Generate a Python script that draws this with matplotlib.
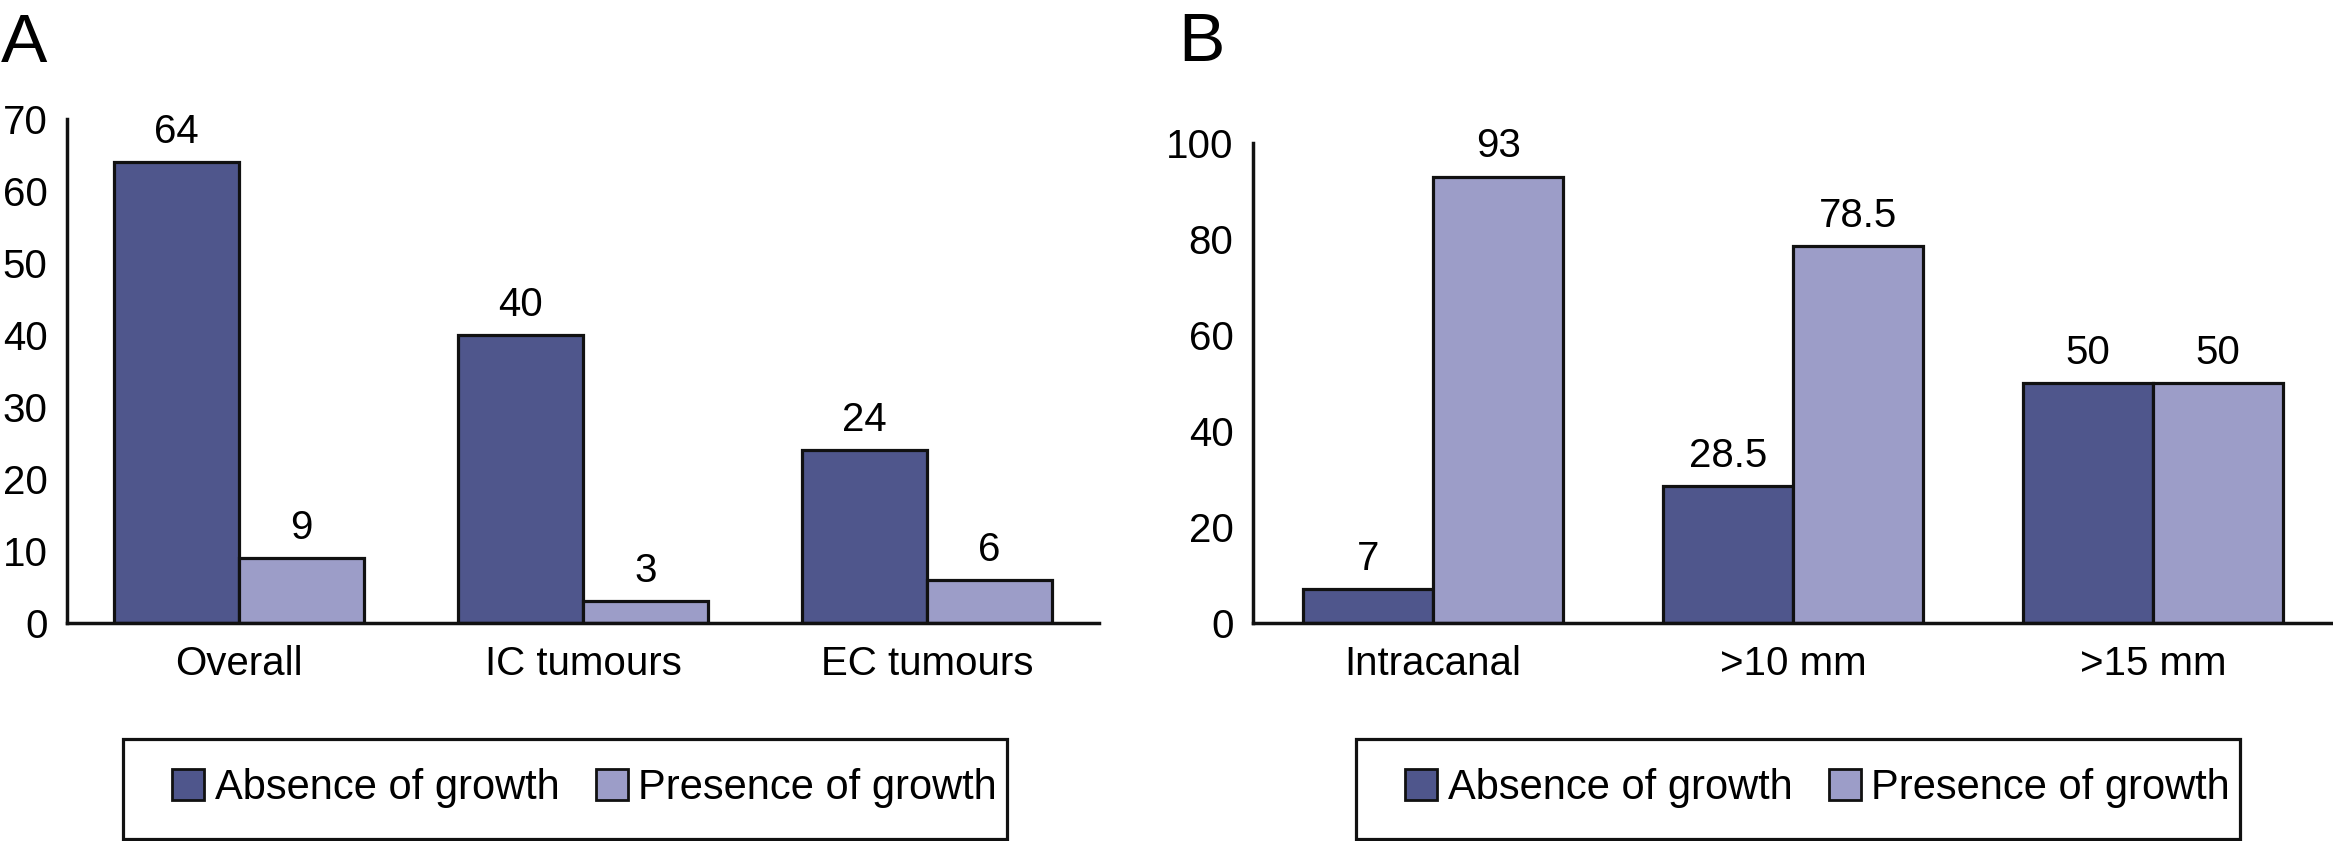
import numpy as np
import matplotlib
matplotlib.use("Agg")
import matplotlib.pyplot as plt
from matplotlib.patches import Patch, Rectangle

plt.rcParams['font.family'] = ['Liberation Sans', 'DejaVu Sans']

# data
cats_a = ["Overall", "IC tumours", "EC tumours"]
absence_a = [64, 40, 24]
presence_a = [9, 3, 6]

cats_b = ["Intracanal", ">10 mm", ">15 mm"]
absence_b = [7, 28.5, 50]
presence_b = [93, 78.5, 50]

series_names = ["Absence of growth", "Presence of growth"]
dark = "#4f568c"
light = "#9c9dc8"

W, H = 2333.0, 841.0
FS = 29
LFS = 30
LW = 2.3


def draw_panel(ax, cats, absence, presence, yticks):
    x = np.arange(len(cats))
    w = 0.362
    b1 = ax.bar(x - w / 2, absence, w, color=dark, edgecolor="#111111", linewidth=LW)
    b2 = ax.bar(x + w / 2, presence, w, color=light, edgecolor="#111111", linewidth=LW)
    for bars in (b1, b2):
        ax.bar_label(bars, labels=["%g" % v for v in bars.datavalues],
                     padding=8, fontsize=FS)
    ax.set_xlim(-0.5, 2.5)
    ax.set_ylim(yticks[0], yticks[-1])
    ax.set_yticks(yticks)
    ax.set_xticks(x)
    ax.set_xticklabels(cats)
    ax.spines["top"].set_visible(False)
    ax.spines["right"].set_visible(False)
    for s in ("left", "bottom"):
        ax.spines[s].set_linewidth(LW + 0.2)
        ax.spines[s].set_color("#111111")
    ax.tick_params(axis="both", length=0, labelsize=FS)
    ax.tick_params(axis="y", pad=14)
    ax.tick_params(axis="x", pad=16)


def draw_legend(fig, box_left, handle_left):
    # frame round the legend
    fig.add_artist(Rectangle((box_left / W, 1 - 839 / H), 884 / W, 100 / H,
                             transform=fig.transFigure, fill=False,
                             edgecolor="#111111", linewidth=LW))
    handles = [Patch(facecolor=dark, edgecolor="#111111", linewidth=2),
               Patch(facecolor=light, edgecolor="#111111", linewidth=2)]
    fig.legend(handles, series_names, loc="center left",
               bbox_to_anchor=(handle_left / W, 1 - 788 / H),
               ncol=2, frameon=False, fontsize=LFS, borderpad=0, borderaxespad=0,
               handlelength=0.77, handleheight=0.77, handletextpad=0.26,
               columnspacing=0.86)


fig = plt.figure(figsize=(W / 100, H / 100), dpi=100)

axA = fig.add_axes([67 / W, 1 - 623 / H, (1099 - 67) / W, (623 - 119) / H])
draw_panel(axA, cats_a, absence_a, presence_a, np.arange(0, 71, 10))

axB = fig.add_axes([1253 / W, 1 - 623 / H, (2333 - 1253) / W, (623 - 143) / H])
draw_panel(axB, cats_b, absence_b, presence_b, np.arange(0, 101, 20))

fig.text(1 / W, 1 - 62 / H, "A", fontsize=50, ha="left", va="baseline")
fig.text(1178 / W, 1 - 61 / H, "B", fontsize=50, ha="left", va="baseline")

draw_legend(fig, 123, 172)
draw_legend(fig, 1356, 1405)

fig.savefig("out.png", dpi=100)
